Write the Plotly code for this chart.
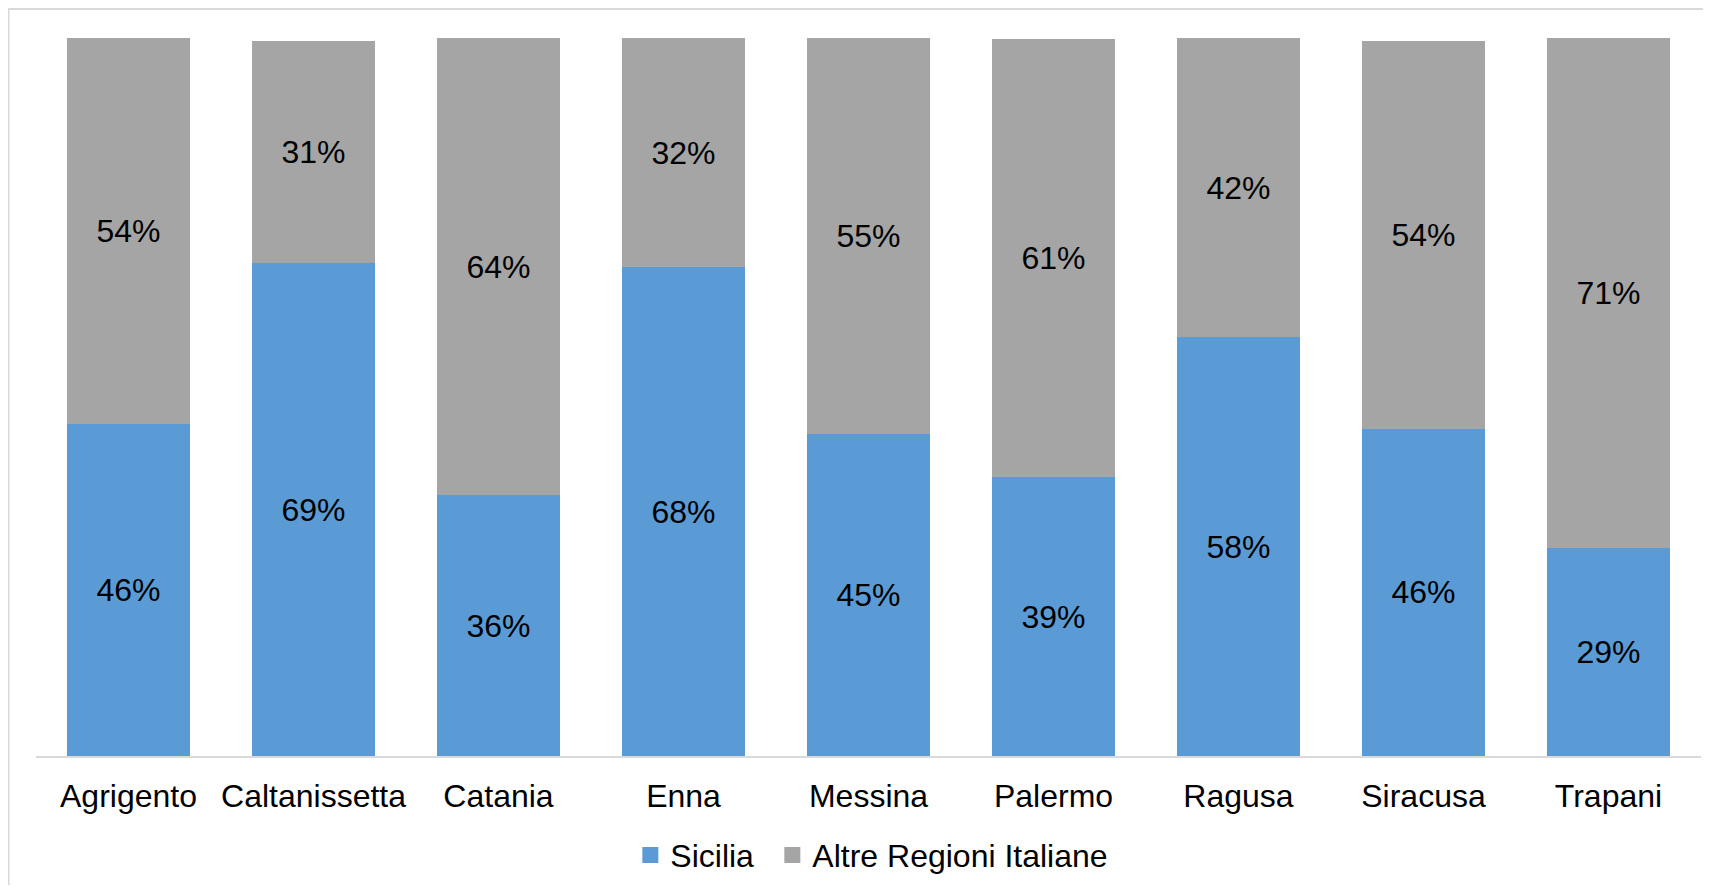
import plotly.graph_objects as go

categories = ["Agrigento", "Caltanissetta", "Catania", "Enna", "Messina",
              "Palermo", "Ragusa", "Siracusa", "Trapani"]
sicilia = [46.2, 68.6, 36.3, 68.1, 44.9, 38.8, 58.3, 45.6, 29.0]
altre = [53.8, 31.0, 63.7, 31.9, 55.1, 61.0, 41.7, 54.0, 71.0]
series_names = ["Sicilia", "Altre Regioni Italiane"]
colors = ["#5B9BD5", "#A5A5A5"]
legend_widths = [97, None]

FONT = "Arial, Liberation Sans, sans-serif"
# page has an 8px body margin, so the figure is sized to fit inside it
W, H = 1695, 877
L, R, T, B = 28, 2, 30, 126.5

fig = go.Figure()
for name, vals, col, lw in zip(series_names, [sicilia, altre], colors, legend_widths):
    fig.add_trace(go.Bar(
        x=categories, y=vals, name=name, showlegend=False,
        marker=dict(color=col, line=dict(width=0)),
        texttemplate="%{y:.0f}%", textposition="inside",
        insidetextanchor="middle", textangle=0, constraintext="none",
        textfont=dict(family=FONT, size=32, color="#000000"),
        hoverinfo="skip",
    ))
    fig.add_trace(go.Scatter(
        x=[None], y=[None], mode="markers", name=name,
        marker=dict(symbol="square", size=16, color=col),
        showlegend=True, hoverinfo="skip", legendwidth=lw,
    ))

pw = W - L - R
ph = H - T - B
def px_x(x):
    return (x - L) / pw
def px_y(y):
    return (H - B - y) / ph

fig.update_layout(
    width=W, height=H,
    margin=dict(l=L, r=R, t=T, b=B, pad=0),
    barmode="stack", bargap=0.333,
    plot_bgcolor="white", paper_bgcolor="white",
    font=dict(family=FONT, size=32, color="#000000"),
    xaxis=dict(showgrid=False, showline=True, linecolor="#D9D9D9", linewidth=1.5,
               ticks="", tickfont=dict(family=FONT, size=32, color="#000000"),
               ticklabelstandoff=11, zeroline=False),
    yaxis=dict(range=[0, 100], visible=False, showgrid=False, zeroline=False),
    legend=dict(orientation="h", x=0.502, xanchor="center", y=px_y(850), yanchor="middle",
                traceorder="normal",
                font=dict(family=FONT, size=32, color="#000000"),
                itemsizing="trace", bgcolor="rgba(0,0,0,0)"),
    shapes=[
        dict(type="line", xref="paper", yref="paper",
             x0=px_x(0), x1=px_x(W + 5), y0=px_y(1), y1=px_y(1),
             line=dict(color="#D9D9D9", width=2)),
        dict(type="line", xref="paper", yref="paper",
             x0=px_x(0.5), x1=px_x(0.5), y0=px_y(0), y1=px_y(H + 5),
             line=dict(color="#D9D9D9", width=2)),
    ],
)

fig.write_html("out.html")
